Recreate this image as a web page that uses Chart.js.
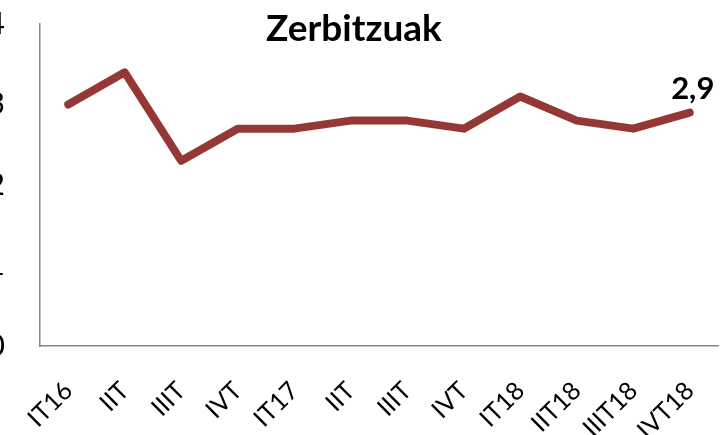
<!DOCTYPE html>
<html>
<head>
<meta charset="utf-8">
<script src="https://cdn.jsdelivr.net/npm/chart.js@4"></script>
<style>
  html, body { margin: 0; padding: 0; background: #fff; overflow: hidden; }
  #wrap { position: absolute; left: -16px; top: 0; width: 740px; height: 435px; }
</style>
</head>
<body>
<div id="wrap"><canvas id="myChart" width="740" height="435"></canvas></div>
<script>
// data
const quarters = ['IT16', 'IIT', 'IIIT', 'IVT', 'IT17', 'IIT', 'IIIT', 'IVT', 'IT18', 'IIT18', 'IIIT18', 'IVT18'];
const services = [3.0, 3.4, 2.3, 2.7, 2.7, 2.8, 2.8, 2.7, 3.1, 2.8, 2.7, 2.9];
const yTicks = [0, 1, 2, 3, 4];
const chartTitle = 'Zerbitzuak';

const lineColor = '#953735';
const fontName = 'Lato';

// title drawn over the plot, plus the label on the last point
const extras = {
  id: 'extras',
  afterDatasetsDraw(chart) {
    const ctx = chart.ctx;
    ctx.save();
    ctx.fillStyle = '#000';
    ctx.textAlign = 'center';
    ctx.textBaseline = 'alphabetic';
    ctx.font = 'bold 37px ' + fontName;
    ctx.fillText(chartTitle, 370, 41);

    const meta = chart.getDatasetMeta(0);
    const last = meta.data[meta.data.length - 1];
    const v = services[services.length - 1];
    ctx.font = 'bold 31px ' + fontName;
    ctx.fillText(String(v).replace('.', ','), last.x + 3, last.y - 14);
    ctx.restore();
  }
};

const ctx = document.getElementById('myChart').getContext('2d');
const myChart = new Chart(ctx, {
  type: 'line',
  data: {
    labels: quarters,
    datasets: [{
      label: chartTitle,
      data: services,
      borderColor: lineColor,
      backgroundColor: lineColor,
      borderWidth: 8,
      borderCapStyle: 'round',
      borderJoinStyle: 'round',
      pointRadius: 0,
      tension: 0
    }]
  },
  options: {
    responsive: false,
    animation: false,
    layout: { padding: { top: 24, right: 6, left: 0, bottom: 0 } },
    plugins: {
      legend: { display: false },
      tooltip: { enabled: false }
    },
    scales: {
      x: {
        offset: true,
        grid: { display: false, drawTicks: false },
        border: { display: true, color: '#868686', width: 1.5 },
        ticks: {
          color: '#000',
          font: { family: fontName, size: 25 },
          maxRotation: 45,
          minRotation: 45,
          autoSkip: false,
          padding: 30
        },
        afterFit(scale) {
          scale.height = 89;
          scale.paddingLeft = 0;
          scale.paddingRight = 0;
        }
      },
      y: {
        min: 0,
        max: 4,
        afterBuildTicks(scale) { scale.ticks = yTicks.map(v => ({ value: v })); },
        grid: { display: false, drawTicks: false },
        border: { display: true, color: '#868686', width: 1.5 },
        ticks: {
          color: '#000',
          font: { family: fontName, size: 30 },
          padding: 35
        },
        afterFit(scale) {
          scale.width = 56;
          scale.paddingTop = 0;
          scale.paddingBottom = 0;
        }
      }
    }
  },
  plugins: [extras]
});
</script>
</body>
</html>
